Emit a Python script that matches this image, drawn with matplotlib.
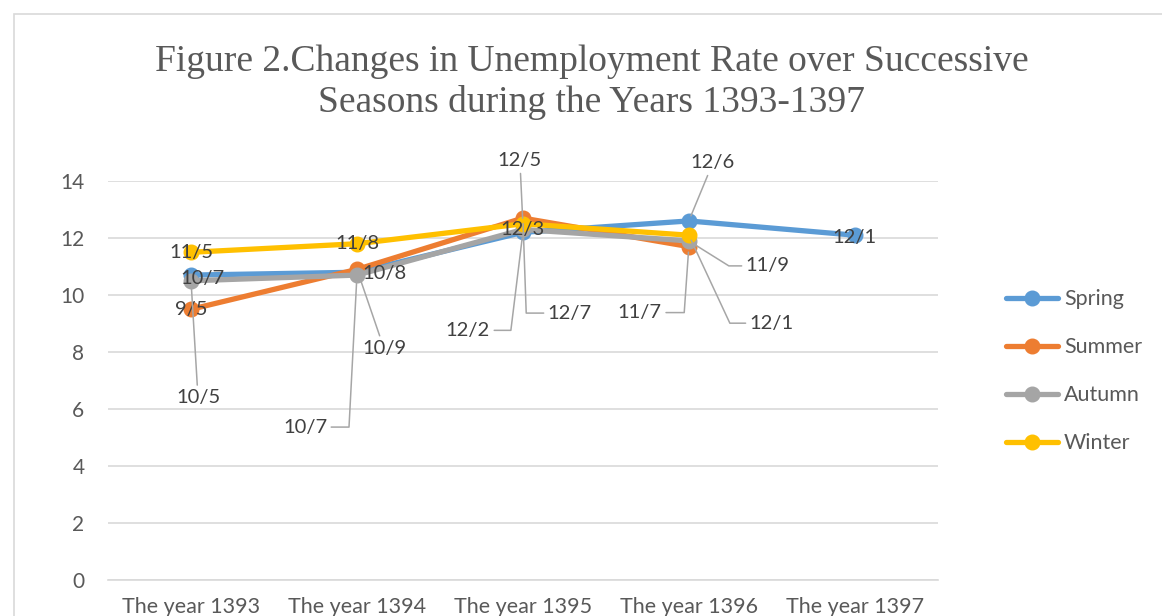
import numpy as np
import matplotlib
matplotlib.use('Agg')
import matplotlib.pyplot as plt
from matplotlib.patches import Rectangle

plt.rcParams['font.family'] = ['Lato', 'DejaVu Sans']

years = ['The year 1393', 'The year 1394', 'The year 1395', 'The year 1396', 'The year 1397']
spring = [10.7, 10.8, 12.2, 12.6, 12.1]
summer = [9.5, 10.9, 12.7, 11.7, np.nan]
autumn = [10.5, 10.7, 12.3, 11.9, np.nan]
winter = [11.5, 11.8, 12.5, 12.1, np.nan]

series = [('Spring', spring, '#5B9BD5'),
          ('Summer', summer, '#ED7D31'),
          ('Autumn', autumn, '#A5A5A5'),
          ('Winter', winter, '#FFC000')]

# label offsets in pixels: (dx, dy, leader) ; leader None = no line,
# 's' = straight line, number = elbow angle at the point
label_pos = {
    'Spring': [(11, -3, None), (28, -1, None), (-55, -98, 83), (24, 58, 's'), (0, -2, None)],
    'Summer': [(0, 0, None), (27, -79, 's'), (47, -95, 92), (-49, -66, 86)],
    'Autumn': [(7, -117, 's'), (-52, -152, 87), (0, 0, None), (79, -25, -32)],
    'Winter': [(0, 0, None), (0, 0, None), (-3, 63, 's'), (83, -88, -65)],
}

fig = plt.figure(figsize=(11.62, 6.16), dpi=100)
ax = fig.add_axes([0.093, 0.0584, 0.714, 0.6477])

x = np.arange(len(years))
for name, vals, col in series:
    ax.plot(x, vals, color=col, lw=3.8, marker='o', ms=10.5, label=name,
            solid_capstyle='round', zorder=3)

lead = '#A6A6A6'
for name, vals, col in series:
    for i, (dx, dy, kind) in enumerate(label_pos[name]):
        v = vals[i]
        txt = ('%.1f' % v).replace('.', '/')
        kw = dict(textcoords='offset pixels', ha='center', va='center',
                  fontsize=14.5, color='#404040', zorder=5)
        if kind is None:
            ax.annotate(txt, (x[i], v), xytext=(dx, dy), **kw)
        elif kind == 's':
            ax.annotate(txt, (x[i], v), xytext=(dx, dy),
                        arrowprops=dict(arrowstyle='-', color=lead, lw=1.1,
                                        shrinkA=1, shrinkB=4), **kw)
        else:
            ax.annotate(txt, (x[i], v), xytext=(dx, dy),
                        arrowprops=dict(arrowstyle='-', color=lead, lw=1.1,
                                        shrinkA=1, shrinkB=4,
                                        connectionstyle='angle,angleA=0,angleB=%d,rad=0' % kind),
                        **kw)

ax.set_ylim(0, 14)
ax.set_xlim(-0.5, 4.5)
ax.set_yticks(range(0, 15, 2))
ax.set_xticks(x)
ax.set_xticklabels(years)
ax.grid(axis='y', color='#D9D9D9', lw=1.2)
ax.set_axisbelow(True)
for s in ['top', 'right', 'left']:
    ax.spines[s].set_visible(False)
ax.spines['bottom'].set_color('#D9D9D9')
ax.spines['bottom'].set_linewidth(1.2)
ax.tick_params(axis='both', length=0, colors='#595959')
ax.tick_params(axis='y', pad=17, labelsize=15)
ax.tick_params(axis='x', pad=12, labelsize=15.5)

fig.text(0.509, 0.866,
         'Figure 2.Changes in Unemployment Rate over Successive\nSeasons during the Years 1393-1397',
         ha='center', va='center', fontsize=27, color='#595959',
         family='Liberation Serif', linespacing=1.22)

ax.legend(loc='center left', bbox_to_anchor=(0.849, 0.397),
          bbox_transform=fig.transFigure, frameon=False, fontsize=15.5,
          labelcolor='#595959', handlelength=2.4, handletextpad=0.3,
          labelspacing=1.3)

fig.patches.append(Rectangle((14 / 1162, -0.1), 1.2, 1.1 - 14 / 616,
                             transform=fig.transFigure, fill=False,
                             edgecolor='#D9D9D9', lw=1.2))

fig.savefig('out.png', dpi=100)
